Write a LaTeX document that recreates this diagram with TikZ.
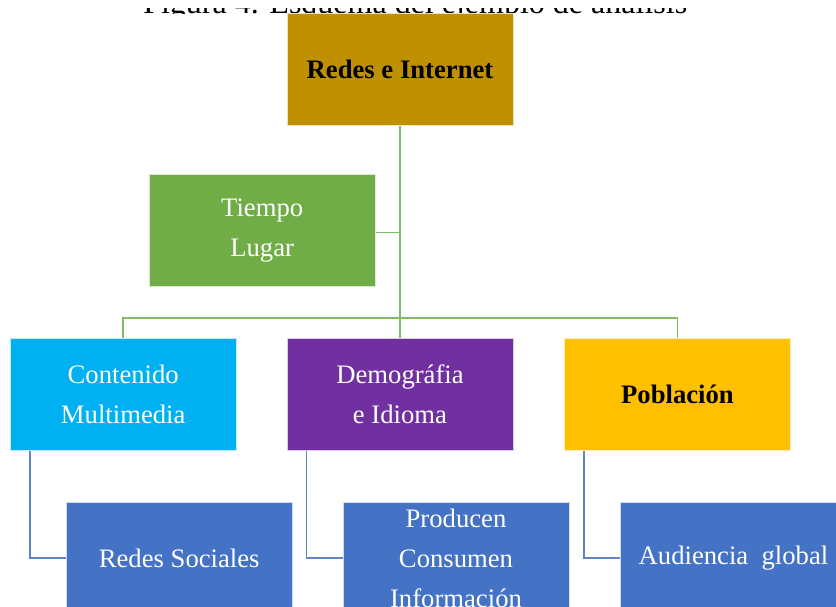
\documentclass[tikz,border=0pt]{standalone}
\usepackage{fontspec}
\setmainfont{Liberation Serif}
\usepackage{xcolor}
\usepackage{tikz}
\usetikzlibrary{positioning}

\definecolor{gold}{HTML}{BF9000}
\definecolor{leaf}{HTML}{70AD47}
\definecolor{sky}{HTML}{00B0F0}
\definecolor{plum}{HTML}{7030A0}
\definecolor{amber}{HTML}{FFC000}
\definecolor{steel}{HTML}{4472C4}
\definecolor{leafline}{HTML}{84BC62}
\definecolor{steelline}{HTML}{5F83CA}

\begin{document}
\begin{tikzpicture}[x=0.75pt,y=-0.75pt,
	box/.style={rectangle, minimum width=169.5pt, minimum height=84pt, inner sep=0pt,
		align=center, draw=white!75!#1, line width=0.6pt, fill=#1, text=white,
		font=\fontsize{20}{30}\selectfont},
	boldbox/.style={box=#1, text=black, font=\fontsize{20}{30}\selectfont\bfseries},
	greenline/.style={draw=leafline, line width=1.2pt},
	blueline/.style={draw=steelline, line width=1.1pt}]
	
	\useasboundingbox (0,0) rectangle (836,607);
	\clip (0,0) rectangle (836,607);
	
	% caption strip, mostly cut away
	\begin{scope}
		\clip (0,8.5) rectangle (836,13.5);
		\node[anchor=base west, inner sep=0pt, font=\fontsize{24}{28}\selectfont] (cap) at (143,13) {Figura 4. Esquema del ejemplo de análisis};
	\end{scope}
	
	\node[boldbox=gold]  (top)  at (400,69.5) {Redes e Internet};
	\node[box=leaf]  (lugar)  [below left=36pt and -66.75pt of top] {Tiempo\\Lugar};
	\node[box=plum]  (demo)  [below=159pt of top] {Demográfia\\e Idioma};
	\node[box=sky]  (multi)  [left=37.5pt of demo] {Contenido\\Multimedia};
	\node[boldbox=amber]  (pobl)  [right=38pt of demo] {Población};
	
	\node[box=steel]  (soc)  [below=38.25pt of multi, xshift=42pt] {Redes Sociales};
	\node[box=steel]  (info)  [below=38.25pt of demo, xshift=42pt] {Producen\\Consumen\\Información};
	\node[box=steel]  (aud)  [below=38.25pt of pobl, xshift=42pt] {Audiencia~~global};
	
	\coordinate[above=15pt of demo.north] (bar);
	
	\draw[greenline] (top.south) -- (demo.north);
	\draw[greenline] ([yshift=-1.5pt]lugar.east) -- ([yshift=-1.5pt]lugar.east -| top.south);
	\draw[greenline] (multi.north) |- (bar) -| (pobl.north);
	
	\draw[blueline] ([xshift=15pt]multi.south west) |- (soc.west);
	\draw[blueline] ([xshift=15pt]demo.south west) |- (info.west);
	\draw[blueline] ([xshift=15pt]pobl.south west) |- (aud.west);
\end{tikzpicture}
\end{document}
